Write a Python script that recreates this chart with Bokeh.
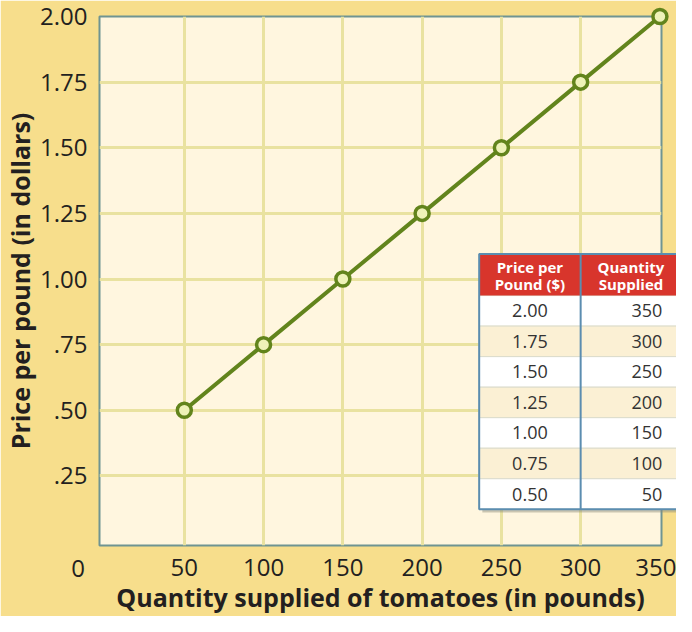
from bokeh.plotting import figure
from bokeh.models import Range1d, FixedTicker
from bokeh.core.properties import value
from bokeh.embed import file_html
from bokeh.resources import INLINE

# ---- data ----
quantity = [50, 100, 150, 200, 250, 300, 350]
price = [0.50, 0.75, 1.00, 1.25, 1.50, 1.75, 2.00]
x_ticks = [50, 100, 150, 200, 250, 300, 350]
x_grid_ticks = [50, 100, 150, 200, 250, 300]
y_ticks = [0.25, 0.50, 0.75, 1.00, 1.25, 1.50, 1.75, 2.00]
y_grid_ticks = [0.25, 0.50, 0.75, 1.00, 1.25, 1.50, 1.75]
y_tick_labels = [".25", ".50", ".75", "1.00", "1.25", "1.50", "1.75", "2.00"]
header_line1 = ["Price per", "Quantity"]
header_line2 = ["Pound ($)", "Supplied"]
table_price = ["2.00", "1.75", "1.50", "1.25", "1.00", "0.75", "0.50"]
table_qty = ["350", "300", "250", "200", "150", "100", "50"]

FONT = value("Open Sans")
TXT = "#231F20"
OLIVE = "#62841C"

p = figure(width=676, height=616, output_backend="svg", toolbar_location=None,
           x_range=Range1d(-3.5, 351), y_range=Range1d(-0.015, 2.0),
           min_border_left=93, min_border_right=15, min_border_top=16,
           min_border_bottom=66)
p.background_fill_color = "#FFF6DF"
p.border_fill_color = "#F7DE8C"
p.outline_line_color = "#6F9492"
p.outline_line_width = 2

# grid
p.xgrid.ticker = FixedTicker(ticks=x_grid_ticks)
p.ygrid.ticker = FixedTicker(ticks=y_grid_ticks)
for g in (p.xgrid, p.ygrid):
    g.grid_line_color = "#E9E2A0"
    g.grid_line_width = 3

# axes
p.xaxis.ticker = FixedTicker(ticks=x_ticks)
p.yaxis.ticker = FixedTicker(ticks=y_ticks)
p.yaxis.major_label_overrides = {t: l for t, l in zip(y_ticks, y_tick_labels)}
for ax in (p.xaxis, p.yaxis):
    ax.axis_line_color = None
    ax.major_tick_line_color = None
    ax.minor_tick_line_color = None
    ax.major_label_text_font = "Open Sans"
    ax.major_label_text_font_size = "24px"
    ax.major_label_text_color = TXT
    ax.axis_label_text_font = "Open Sans"
    ax.axis_label_text_font_style = "bold"
    ax.axis_label_text_font_size = "25px"
    ax.axis_label_text_color = TXT
p.xaxis.major_label_standoff = 7
p.yaxis.major_label_standoff = 6
p.xaxis.axis_label = "Quantity supplied of tomatoes (in pounds)"
p.yaxis.axis_label = "Price per pound (in dollars)"
p.xaxis.axis_label_standoff = 1
p.yaxis.axis_label_standoff = 0

# origin label "0"
p.text(x=[0], y=[0], text=["0"], x_offset=-27, y_offset=27,
       text_font=FONT, text_font_size="24px", text_color=TXT,
       text_align="center", text_baseline="middle", level="overlay")

# supply line
p.line(quantity, price, line_color=OLIVE, line_width=4, level="overlay")
p.scatter(quantity, price, size=14, fill_color="#EEF2B8", line_color=OLIVE,
          line_width=3.5, level="overlay")

# ---- table (layout in data units) ----
TX0, TXM, TX1 = 236.0, 300.0, 363.5
TTOP, THEAD, TBOT = 1.095, 0.937, 0.123
n = len(table_price)
rh = (THEAD - TBOT) / n
row_top = [THEAD - i * rh for i in range(n)]
row_bot = [THEAD - (i + 1) * rh for i in range(n)]
row_mid = [THEAD - (i + 0.5) * rh for i in range(n)]
row_fill = ["#FFFFFF" if i % 2 == 0 else "#FBF0D4" for i in range(n)]

# shadow
p.quad(left=[TX0 + 2.0], right=[TX1 + 2.0], top=[TTOP - 0.012], bottom=[TBOT - 0.012],
       fill_color="#8A8A7A", fill_alpha=0.45, line_color=None, level="overlay")
# rows
p.quad(left=TX0, right=TX1, top=row_top, bottom=row_bot, fill_color=row_fill,
       line_color="#DCDCCC", line_width=1, level="overlay")
# header
p.quad(left=[TX0], right=[TX1], top=[TTOP], bottom=[THEAD], fill_color="#D8352C",
       line_color=None, level="overlay")
# divider and border
p.segment(x0=[TXM], y0=[TTOP], x1=[TXM], y1=[TBOT], line_color="#5B8DB0",
          line_width=2, level="overlay")
p.quad(left=[TX0], right=[TX1], top=[TTOP], bottom=[TBOT], fill_color=None,
       line_color="#5B8DB0", line_width=2, level="overlay")

# header texts
hx = [(TX0 + TXM) / 2, (TXM + TX1) / 2]
hh = (TTOP - THEAD)
p.text(x=hx, y=[TTOP - hh * 0.32] * 2, text=header_line1, text_font=FONT,
       text_font_style="bold", text_font_size="15px", text_color="white",
       text_align="center", text_baseline="middle", level="overlay")
p.text(x=hx, y=[TTOP - hh * 0.72] * 2, text=header_line2, text_font=FONT,
       text_font_style="bold", text_font_size="15px", text_color="white",
       text_align="center", text_baseline="middle", level="overlay")

# body texts
p.text(x=[hx[0]] * n, y=row_mid, text=table_price, text_font=FONT,
       text_font_size="18px", text_color="#333333", text_align="center",
       text_baseline="middle", level="overlay")
p.text(x=[TX1 - 12] * n, y=row_mid, text=table_qty, text_font=FONT,
       text_font_size="18px", text_color="#333333", text_align="right",
       text_baseline="middle", level="overlay")

open("out.html", "w").write(file_html(p, INLINE))
